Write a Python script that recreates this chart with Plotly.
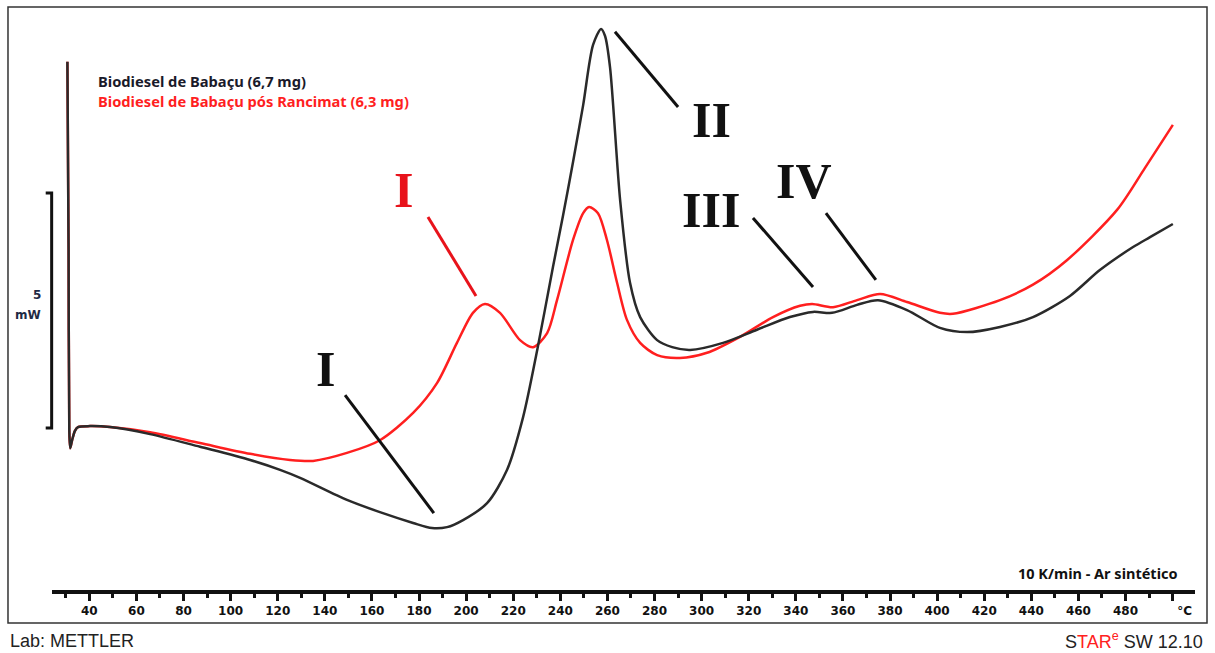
import plotly.graph_objects as go

# DSC curves of babassu biodiesel, temperature (°C) vs heat flow (mW)
temp_black = [30.7, 31.2, 31.5, 31.9, 32.7, 33.9, 35.2, 40.3, 48.8, 65.8, 87.0, 108.3,
              121.0, 129.5, 149.4, 163.4, 177.5, 185.5, 191.9, 198.7, 208.9, 217.4,
              224.2, 230.2, 236.9, 241.2, 245.4, 249.7, 253.9, 257.3, 259.0, 261.1,
              265.4, 269.6, 273.9, 281.1, 287.5, 295.1, 309.1, 323.5, 337.5, 347.3,
              355.4, 366.0, 374.9, 387.2, 401.2, 412.7, 426.7, 440.7, 456.4, 469.1,
              483.2, 490.4, 500.1]
hf_black = [7.79, 3.79, -0.04, -0.43, -0.26, -0.06, 0.02, 0.04, 0.02, -0.13, -0.40, -0.68,
            -0.89, -1.06, -1.53, -1.79, -2.02, -2.13, -2.11, -1.96, -1.60, -0.89,
            0.23, 1.66, 3.43, 4.53, 5.66, 6.87, 8.15, 8.49, 8.34, 7.68,
            4.85, 3.09, 2.36, 1.87, 1.72, 1.66, 1.81, 2.09, 2.36, 2.47,
            2.45, 2.62, 2.72, 2.51, 2.13, 2.04, 2.15, 2.36, 2.81, 3.36,
            3.85, 4.06, 4.34]

temp_red = [30.7, 31.2, 31.5, 31.9, 32.7, 33.9, 35.2, 40.3, 48.8, 65.8, 87.0, 108.3,
            125.2, 135.0, 149.4, 163.4, 177.5, 187.7, 196.1, 202.9, 208.0, 214.4,
            222.9, 228.4, 234.4, 238.6, 245.4, 249.7, 252.2, 256.0, 259.8, 264.1,
            268.3, 273.9, 281.1, 290.8, 302.3, 316.3, 330.3, 341.8, 346.9, 355.8,
            366.0, 375.8, 387.2, 401.2, 406.7, 426.7, 440.7, 455.1, 476.4, 488.2,
            500.1]
hf_red = [7.79, 3.79, -0.04, -0.43, -0.26, -0.06, 0.02, 0.04, 0.02, -0.09, -0.32, -0.55,
          -0.68, -0.70, -0.53, -0.26, 0.32, 0.96, 1.81, 2.45, 2.64, 2.45,
          1.87, 1.72, 2.02, 2.72, 4.00, 4.57, 4.70, 4.57, 4.00, 3.09,
          2.30, 1.81, 1.55, 1.49, 1.60, 1.94, 2.36, 2.60, 2.64, 2.57,
          2.72, 2.85, 2.68, 2.45, 2.43, 2.72, 3.05, 3.57, 4.64, 5.53,
          6.45]

series_names = ["Biodiesel de Babaçu (6,7 mg)", "Biodiesel de Babaçu pós Rancimat (6,3 mg)"]

tick_values = list(range(40, 501, 20))
# last major tick carries the unit, nudged right with en spaces
tick_labels = [str(v) for v in range(40, 481, 20)] + ["\u2002\u2002\u2002\u2002°C"]

# stage labels: text, colour, label position, leader line start/end (°C, mW)
stages = [
    ("I", "#e8131b", (173.2, 5.06), (183.8, 4.49), (204.2, 2.81)),
    ("I", "#111111", (140.5, 1.26), (148.6, 0.70), (186.3, -1.81)),
    ("II", "#111111", (304.3, 6.55), (263.2, 8.43), (290.0, 6.83)),
    ("III", "#111111", (303.9, 4.64), (321.8, 4.47), (347.3, 3.00)),
    ("IV", "#111111", (343.5, 5.26), (352.8, 4.57), (374.0, 3.15)),
]

X_RANGE = [24.16, 509.5]
Y_RANGE = [-3.447, 8.936]
SCALE_MW = 5


def ypaper(v):
    return (v - Y_RANGE[0]) / (Y_RANGE[1] - Y_RANGE[0])


fig = go.Figure()
fig.add_trace(go.Scatter(x=temp_red, y=hf_red, mode="lines", name=series_names[1],
                         line=dict(color="#ff1f1f", width=2.5, shape="spline", smoothing=0.8)))
fig.add_trace(go.Scatter(x=temp_black, y=hf_black, mode="lines", name=series_names[0],
                         line=dict(color="#2a2a2a", width=2.5, shape="spline", smoothing=0.8)))

shapes = []
annotations = []

# outer frame
shapes.append(dict(type="rect", xref="paper", yref="paper", x0=-0.0385, x1=1.0105,
                   y0=-0.0567, y1=1.0017, line=dict(color="#333333", width=1.5)))

# 5 mW scale bar
bx, bl = -0.0003, -0.0055
y0, y1 = ypaper(0), ypaper(SCALE_MW)
shapes.append(dict(type="path", xref="paper", yref="paper",
                   path=f"M {bl} {y1} L {bx} {y1} L {bx} {y0} L {bl} {y0}",
                   line=dict(color="#111111", width=3)))
annotations.append(dict(xref="paper", yref="paper", x=-0.0075, y=0.5069, text="5",
                        showarrow=False, xanchor="right", yanchor="middle",
                        font=dict(family="DejaVu Sans", size=12, color="#1f2a44", weight="bold")))
annotations.append(dict(xref="paper", yref="paper", x=-0.0075, y=0.4725, text="mW",
                        showarrow=False, xanchor="right", yanchor="middle",
                        font=dict(family="DejaVu Sans", size=12, color="#1f2a44", weight="bold")))

# stage labels with leader lines
for text, color, (lx, ly), (ax0, ay0), (ax1, ay1) in stages:
    shapes.append(dict(type="line", xref="x", yref="y", x0=ax0, y0=ay0, x1=ax1, y1=ay1,
                       line=dict(color=color, width=3)))
    annotations.append(dict(x=lx, y=ly, xref="x", yref="y", text=text, showarrow=False,
                            xanchor="center", yanchor="middle",
                            font=dict(family="Liberation Serif", size=50, color=color,
                                      weight="bold")))

# series captions
label_font = dict(family="Noto Sans", size=14.7, weight="bold")
annotations.append(dict(xref="paper", yref="paper", x=0.0385, y=0.8746, text=series_names[0],
                        showarrow=False, xanchor="left", yanchor="middle",
                        font=dict(label_font, color="#1a1a2a")))
annotations.append(dict(xref="paper", yref="paper", x=0.0385, y=0.8402, text=series_names[1],
                        showarrow=False, xanchor="left", yanchor="middle",
                        font=dict(label_font, color="#ff1f1f")))
annotations.append(dict(xref="paper", yref="paper", x=0.9869, y=0.0292,
                        text="10 K/min - Ar sintético", showarrow=False,
                        xanchor="right", yanchor="middle",
                        font=dict(family="Noto Sans", size=14.5, weight="bold", color="#111111")))

# footer
annotations.append(dict(xref="paper", yref="paper", x=-0.0385, y=-0.0876, text="Lab: METTLER",
                        showarrow=False, xanchor="left", yanchor="middle",
                        font=dict(family="Liberation Sans", size=18, color="#222222")))
annotations.append(dict(xref="paper", yref="paper", x=1.0087, y=-0.0876,
                        text="S<span style='color:#ff2020'>TAR<sup>e</sup></span> SW 12.10",
                        showarrow=False, xanchor="right", yanchor="middle",
                        font=dict(family="Liberation Sans", size=18, color="#222222")))

fig.update_layout(
    width=1215, height=653,
    margin=dict(l=52, r=20, t=8, b=63),
    paper_bgcolor="white", plot_bgcolor="white",
    showlegend=False,
    shapes=shapes, annotations=annotations,
    xaxis=dict(range=X_RANGE, showgrid=False, zeroline=False, showline=True,
               linecolor="#111111", linewidth=4, ticks="outside", ticklen=7, tickwidth=3,
               tickcolor="#111111", tickvals=tick_values, ticktext=tick_labels,
               tickfont=dict(family="DejaVu Sans", size=12, color="#111111", weight="bold"),
               minor=dict(tickvals=list(range(30, 500, 20)), ticks="outside", ticklen=4,
                          tickwidth=3, tickcolor="#111111")),
    yaxis=dict(range=Y_RANGE, visible=False, showgrid=False, zeroline=False),
)

fig.write_html("out.html")
